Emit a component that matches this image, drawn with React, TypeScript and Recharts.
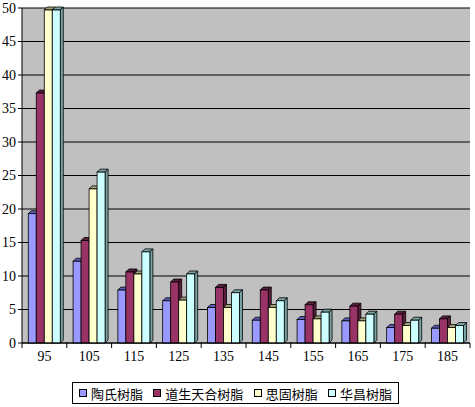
import { BarChart, Bar, XAxis, YAxis, CartesianGrid } from 'recharts'

const categories = ['95', '105', '115', '125', '135', '145', '155', '165', '175', '185']
const taoshi = [19.3, 12.2, 7.9, 6.3, 5.3, 3.4, 3.5, 3.3, 2.3, 2.2]
const daosheng = [37.3, 15.3, 10.6, 9.1, 8.3, 7.9, 5.7, 5.5, 4.3, 3.6]
const sigu = [49.7, 23.0, 10.3, 6.4, 5.3, 5.3, 3.6, 3.3, 2.6, 2.3]
const huachang = [49.7, 25.5, 13.6, 10.3, 7.5, 6.3, 4.6, 4.3, 3.4, 2.6]
const yTicks = [0, 5, 10, 15, 20, 25, 30, 35, 40, 45, 50]

const series = [
  { key: 'taoshi', name: '陶氏树脂', fill: '#9999ff', side: '#5c5cb8' },
  { key: 'daosheng', name: '道生天合树脂', fill: '#993366', side: '#5c1f3d' },
  { key: 'sigu', name: '思固树脂', fill: '#ffffcc', side: '#a3a37a' },
  { key: 'huachang', name: '华昌树脂', fill: '#ccffff', side: '#7aa3a3' },
]

const data = categories.map((c, i) => ({
  cat: c,
  taoshi: taoshi[i],
  daosheng: daosheng[i],
  sigu: sigu[i],
  huachang: huachang[i],
}))

const DEPTH = 3
const BAND = 44.8

function Box(props: any) {
  const { x, y, width, height, fill, side } = props
  if (!height || height <= 0) return null
  const d = DEPTH
  return (
    <g stroke="#000" strokeWidth={0.8}>
      <polygon
        points={`${x},${y} ${x + d},${y - d} ${x + width + d},${y - d} ${x + width},${y}`}
        fill={side}
      />
      <polygon
        points={`${x + width},${y} ${x + width + d},${y - d} ${x + width + d},${y + height - d} ${x + width},${y + height}`}
        fill={side}
      />
      <rect x={x} y={y} width={width} height={height} fill={fill} />
    </g>
  )
}

function XTick(props: any) {
  const { x, y, payload } = props
  const left = x - BAND / 2
  return (
    <g>
      <line x1={left} y1={y - 8} x2={left} y2={y - 3} stroke="#000" />
      {payload.index === categories.length - 1 && (
        <line x1={left + BAND} y1={y - 8} x2={left + BAND} y2={y - 3} stroke="#000" />
      )}
      <text x={x} y={y + 10} textAnchor="middle" fontSize={14} fill="#000"
        fontFamily="'Liberation Serif', serif">
        {payload.value}
      </text>
    </g>
  )
}

function LegendBox() {
  return (
    <div style={{
      position: 'absolute', left: 72, top: 382, width: 327,
      border: '1.5px solid #000', background: '#fff', display: 'flex', alignItems: 'center',
      justifyContent: 'space-between',
      padding: '2px 6px', fontFamily: "'Noto Sans CJK SC', sans-serif", fontSize: 13,
      color: '#000', whiteSpace: 'nowrap', boxSizing: 'border-box', height: 22,
    }}>
      {series.map(s => (
        <span key={s.key} style={{ display: 'flex', alignItems: 'center', gap: 4 }}>
          <span style={{ width: 6, height: 6, background: s.fill, border: '1.5px solid #000', display: 'inline-block' }} />
          {s.name}
        </span>
      ))}
    </div>
  )
}

export default function App() {
  return (
    <div style={{ position: 'absolute', left: 0, top: 0, width: 475, height: 407, background: '#fff' }}>
      <BarChart
        width={475}
        height={407}
        data={data}
        margin={{ top: 8, right: 5, left: 0, bottom: 44 }}
        barCategoryGap="14%"
        barGap={0}
      >
        <CartesianGrid vertical={false} stroke="#000" strokeWidth={1} fill="#c0c0c0" />
        <XAxis
          dataKey="cat"
          axisLine={{ stroke: '#000' }}
          tickLine={false}
          tick={<XTick />}
          interval={0}
          height={20}
        />
        <YAxis
          domain={[0, 50]}
          ticks={yTicks}
          width={22}
          axisLine={{ stroke: '#000' }}
          tickLine={{ stroke: '#000' }}
          tickSize={4}
          tick={{ fontSize: 14, fill: '#000', fontFamily: "'Liberation Serif', serif" }}
          interval={0}
        />
        {series.map(s => (
          <Bar
            key={s.key}
            dataKey={s.key}
            name={s.name}
            fill={s.fill}
            isAnimationActive={false}
            shape={(p: any) => <Box {...p} fill={s.fill} side={s.side} />}
          />
        ))}
      </BarChart>
      <LegendBox />
    </div>
  )
}
